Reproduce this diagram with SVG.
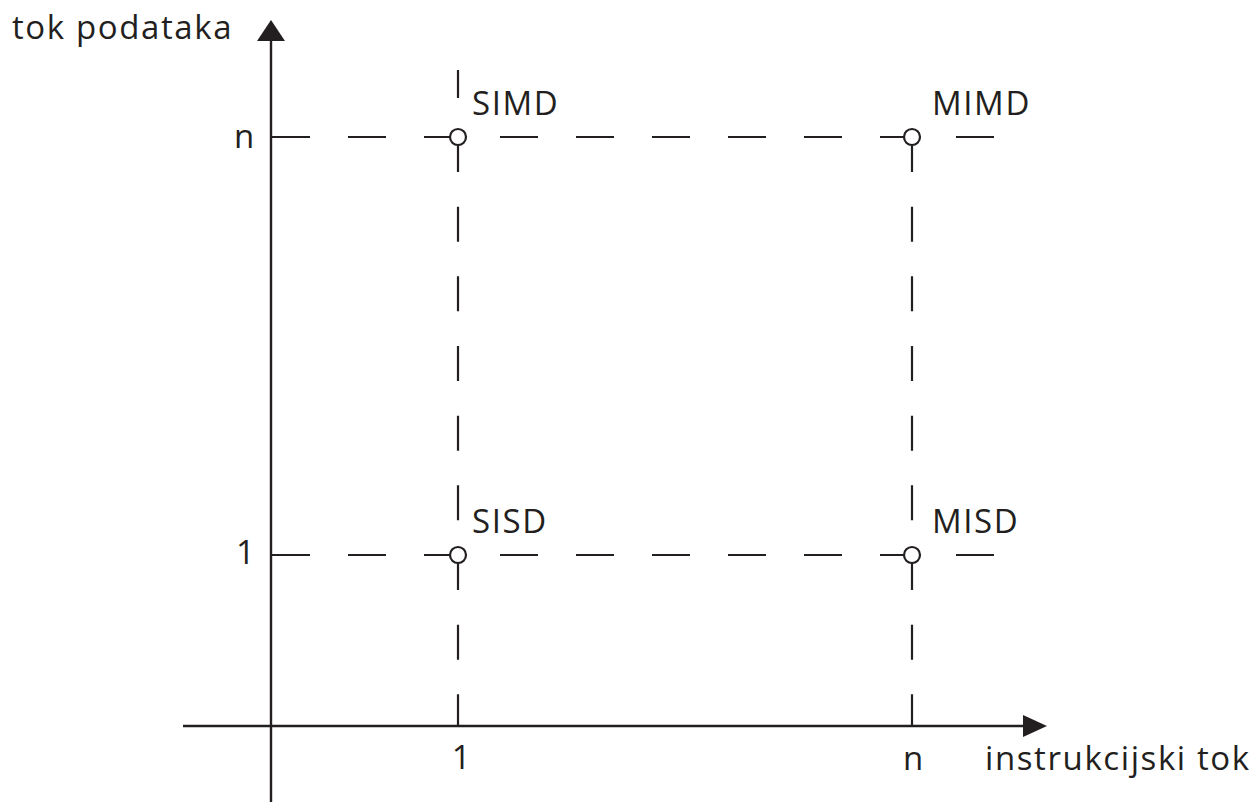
<svg xmlns="http://www.w3.org/2000/svg" width="1258" height="802" viewBox="0 0 1258 802">
  <style>
    .axis { stroke: #231f20; stroke-width: 2.4; fill: none; }
    .dash-h { stroke: #231f20; stroke-width: 2.2; fill: none; stroke-dasharray: 38 38; }
    .dash-v { stroke: #231f20; stroke-width: 2.2; fill: none; stroke-dasharray: 35 34.67; }
    .solid { stroke: #231f20; stroke-width: 2.2; fill: none; }
    .pt { fill: #ffffff; stroke: #231f20; stroke-width: 2.2; }
    .arrow { fill: #231f20; stroke: none; }
    text { font-family: "Open Sans", "Noto Sans", "Liberation Sans", sans-serif; font-size: 33px; letter-spacing: 1.6px; fill: #231f20; }
  </style>
  <rect width="1258" height="802" fill="#ffffff"/>
  <g id="axes">
    <line class="axis" x1="271" y1="36" x2="271" y2="802"/>
    <polygon class="arrow" points="271,20 285,41 257,41"/>
    <line class="axis" x1="183" y1="726" x2="1030" y2="726"/>
    <polygon class="arrow" points="1047,726 1023,715 1023,737"/>
  </g>
  <g id="connectors">
    <line class="dash-h" x1="272" y1="137" x2="996" y2="137"/>
    <line class="dash-h" x1="272" y1="555" x2="996" y2="555"/>
    <line class="solid" x1="458" y1="70" x2="458" y2="98"/>
    <line class="dash-v" x1="458" y1="137" x2="458" y2="726"/>
    <line class="dash-v" x1="912" y1="137" x2="912" y2="726"/>
  </g>
  <g id="node-simd">
    <circle class="pt" cx="458" cy="137" r="8"/>
    <text x="472" y="115">SIMD</text>
  </g>
  <g id="node-mimd">
    <circle class="pt" cx="912" cy="137" r="8"/>
    <text x="932" y="115">MIMD</text>
  </g>
  <g id="node-sisd">
    <circle class="pt" cx="458" cy="555" r="8"/>
    <text x="472" y="533">SISD</text>
  </g>
  <g id="node-misd">
    <circle class="pt" cx="912" cy="555" r="8"/>
    <text x="932" y="533">MISD</text>
  </g>
  <g id="labels">
    <text x="12" y="39">tok podataka</text>
    <text x="985" y="770">instrukcijski tok</text>
    <text x="234" y="148">n</text>
    <text x="236" y="564">1</text>
    <text x="462" y="769" text-anchor="middle">1</text>
    <text x="914" y="770" text-anchor="middle">n</text>
  </g>
</svg>
